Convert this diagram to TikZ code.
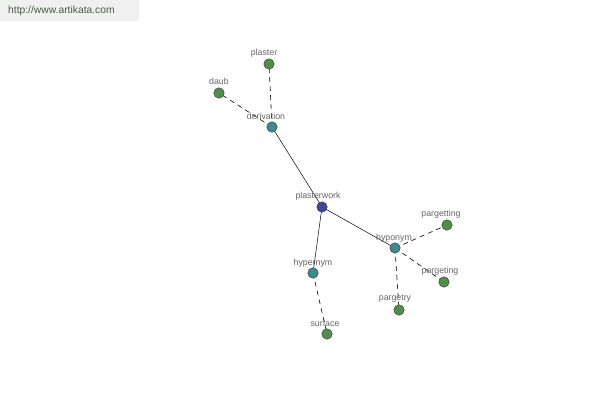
\documentclass[tikz,border=0pt]{standalone}
\usepackage{fontspec}
\setmainfont{Liberation Sans}
\definecolor{leafc}{HTML}{4F8F4A}
\definecolor{midc}{HTML}{3F8A8A}
\definecolor{rootc}{HTML}{42469A}
\definecolor{wmc}{HTML}{4A5A48}
\begin{document}
\begin{tikzpicture}[x=1pt,y=-1pt,
  leaf/.style={circle,draw=black!80,fill=leafc,minimum size=10.5pt,inner sep=0pt},
  mid/.style={circle,draw=black!80,fill=midc,minimum size=10.5pt,inner sep=0pt},
  root/.style={circle,draw=black!80,fill=rootc,minimum size=10.5pt,inner sep=0pt},
  lbl/.style={font=\fontsize{8.8}{9}\selectfont,text=black!60,inner sep=0pt},
  dashedge/.style={draw=black,line width=0.6pt,dash pattern=on 5pt off 4pt},
  solidedge/.style={draw=black,line width=0.5pt}]
\useasboundingbox (0,0) rectangle (600,400);
\fill[white] (0,0) rectangle (600,400);
\fill[black!6] (0,0) rectangle (139,21);
\node[font=\fontsize{10.3}{11}\selectfont,text=wmc,anchor=west,inner sep=0pt] (wm) at (8,11) {http://www.artikata.com};
\coordinate (cpw) at (322,207);
\coordinate (cder) at (272,127);
\coordinate (cpla) at (269,64);
\coordinate (cdau) at (219,93);
\coordinate (chyp) at (395,248);
\coordinate (cpgt) at (447,225);
\coordinate (cpgg) at (444,282);
\coordinate (cpgr) at (399,310);
\coordinate (chyr) at (313,273);
\coordinate (csur) at (327,334);
\draw[solidedge] (cpw) -- (cder);
\draw[solidedge] (cpw) -- (chyp);
\draw[solidedge] (cpw) -- (chyr);
\draw[dashedge] (cder) -- (cpla);
\draw[dashedge] (cder) -- (cdau);
\draw[dashedge] (chyp) -- (cpgt);
\draw[dashedge] (chyp) -- (cpgg);
\draw[dashedge] (chyp) -- (cpgr);
\draw[dashedge] (chyr) -- (csur);
\node[root] (pw) at (cpw) {};
\node[mid] (der) at (cder) {};
\node[leaf] (pla) at (cpla) {};
\node[leaf] (dau) at (cdau) {};
\node[mid] (hyp) at (chyp) {};
\node[leaf] (pgt) at (cpgt) {};
\node[leaf] (pgg) at (cpgg) {};
\node[leaf] (pgr) at (cpgr) {};
\node[mid] (hyr) at (chyr) {};
\node[leaf] (sur) at (csur) {};
\node[lbl] (lpw) at (318,196) {plasterwork};
\node[lbl] (lder) at (266,116) {derivation};
\node[lbl] (lpla) at (264,53) {plaster};
\node[lbl] (ldau) at (219,81) {daub};
\node[lbl] (lhyp) at (394,238) {hyponym};
\node[lbl] (lpgt) at (441,214) {pargetting};
\node[lbl] (lpgg) at (440,271) {pargeting};
\node[lbl] (lpgr) at (395,299) {pargetry};
\node[lbl] (lhyr) at (313,263) {hypernym};
\node[lbl] (lsur) at (325,323) {surface};
\end{tikzpicture}
\end{document}
